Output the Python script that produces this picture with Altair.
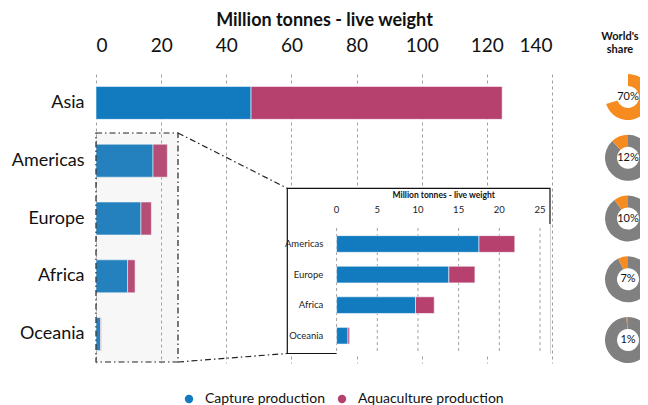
import altair as alt
import pandas as pd

# ---- data ----
regions = ["Asia", "Americas", "Europe", "Africa", "Oceania"]
capture = [47.6, 17.5, 13.8, 9.7, 1.4]
aquaculture = [77.1, 4.4, 3.2, 2.3, 0.2]
share = [70, 12, 10, 7, 1]
series = ["Capture production", "Aquaculture production"]
main_ticks = [0, 20, 40, 60, 80, 100, 120, 140]
inset_ticks = [0, 5, 10, 15, 20, 25]
inset_regions = regions[1:]
axis_title = "Million tonnes - live weight"
share_title = "World's\nshare"

BLUE, PINK, ORANGE, GREY = "#127BBF", "#B6416F", "#F68B1F", "#808080"
INK = "#111111"
GRID = "#a0a0a0"

rows = []
for r, c, a in zip(regions, capture, aquaculture):
    rows.append(dict(region=r, series=series[0], start=0.0, end=c))
    rows.append(dict(region=r, series=series[1], start=c, end=c + a))
bars = pd.DataFrame(rows)
inset_bars = bars[bars.region.isin(inset_regions)]

slices = []
for r, p in zip(regions, share):
    if p > 50:
        slices.append(dict(region=r, t0=0, t1=p, fill=ORANGE))
    else:
        slices.append(dict(region=r, t0=0, t1=100 - p, fill=GREY))
        slices.append(dict(region=r, t0=100 - p, t1=100, fill=ORANGE))
donut_df = pd.DataFrame(slices)
donut_lab = pd.DataFrame(dict(region=regions, label=[f"{p}%" for p in share]))
ticks_df = pd.DataFrame(dict(tick=inset_ticks))
one = pd.DataFrame(dict(a=[0]))

W, H = 456, 289
main_x = alt.Scale(domain=[0, 140], nice=False)
main_y = alt.Scale(domain=regions, paddingInner=0.43, paddingOuter=0.215)
in_x = alt.Scale(domain=[0, 25], range=[240.6, 444], nice=False)
in_y = alt.Scale(domain=inset_regions, range=[154.7, 277], paddingInner=0.455, paddingOuter=0.2275)
d_y = alt.Scale(type="point", domain=regions, range=[23, 266], padding=0)
color = alt.Scale(domain=series, range=[BLUE, PINK])
DASHDOT = [6, 3, 1.5, 3]
DONUT_X = 532

main = alt.Chart(bars).mark_bar(stroke="white", strokeWidth=0.8, strokeOpacity=0.7).encode(
    x=alt.X("start:Q", scale=main_x,
            axis=alt.Axis(orient="top", values=main_ticks, title=axis_title, grid=True,
                          gridDash=[3, 3], gridColor=GRID, domain=False, ticks=False, tickSize=0,
                          labelFontSize=19, labelPadding=19, labelColor=INK,
                          titleFontSize=18, titleFontWeight="bold", titlePadding=7, titleColor=INK)),
    x2="end:Q",
    y=alt.Y("region:N", scale=main_y,
            axis=alt.Axis(title=None, domain=False, ticks=False, tickSize=0, grid=False,
                          labelFontSize=18, labelPadding=12, labelColor=INK)),
    color=alt.Color("series:N", scale=color,
                    legend=alt.Legend(title=None, orient="none", legendX=86, legendY=318,
                                      direction="horizontal", symbolType="circle", symbolSize=71,
                                      symbolStrokeWidth=0, labelFontSize=14, labelColor=INK,
                                      labelOffset=9, columnPadding=10, padding=0)),
)

zoom_rect = alt.Chart(one).mark_rect(fill="#b6b6b6", fillOpacity=0.11, stroke="#222",
                                     strokeWidth=1.2, strokeDash=DASHDOT).encode(
    x=alt.value(0), x2=alt.value(82), y=alt.value(59), y2=alt.value(288))

conn_df = pd.DataFrame(dict(x1=[82, 82], y1=[59, 288], x2=[191.3, 191.3], y2=[114.3, 279.5]))
connectors = alt.Chart(conn_df).mark_rule(color="#222", strokeWidth=1.2, strokeDash=DASHDOT).encode(
    x=alt.X("x1:Q", scale=None), y=alt.Y("y1:Q", scale=None),
    x2="x2:Q", y2="y2:Q")

box = alt.Chart(one).mark_rect(fill="white", stroke="#111", strokeWidth=1.2).encode(
    x=alt.value(191.3), x2=alt.value(454), y=alt.value(114.3), y2=alt.value(279.5))
cover = alt.Chart(one).mark_rect(fill="white").encode(
    x=alt.value(240.6), x2=alt.value(454.7), y=alt.value(150), y2=alt.value(280.2))

in_grid = alt.Chart(ticks_df).mark_rule(color=GRID, strokeDash=[3, 3], strokeWidth=1).encode(
    x=alt.X("tick:Q", scale=in_x, axis=None), y=alt.value(154), y2=alt.value(279.5))
in_ticks = alt.Chart(ticks_df).mark_text(fontSize=9.5, color="#222", baseline="middle").encode(
    x=alt.X("tick:Q", scale=in_x, axis=None), y=alt.value(136), text="tick:Q")
in_title = alt.Chart(one).mark_text(fontSize=8.5, fontWeight="bold", color=INK, baseline="middle").encode(
    x=alt.value(347.7), y=alt.value(121), text=alt.value(axis_title))
in_ylab = alt.Chart(pd.DataFrame(dict(region=inset_regions))).mark_text(
    align="right", baseline="middle", fontSize=9.5, color="#222").encode(
    x=alt.value(227.3), y=alt.Y("region:N", scale=in_y, axis=None), text="region:N")
in_bars = alt.Chart(inset_bars).mark_bar(stroke="white", strokeWidth=0.8, strokeOpacity=0.7).encode(
    x=alt.X("start:Q", scale=in_x, axis=None), x2="end:Q",
    y=alt.Y("region:N", scale=in_y, axis=None),
    color=alt.Color("series:N", scale=color))

donuts = alt.Chart(donut_df).mark_arc(innerRadius=11, outerRadius=23).encode(
    x=alt.value(DONUT_X), y=alt.Y("region:N", scale=d_y, axis=None),
    theta=alt.Theta("t0:Q", scale=alt.Scale(domain=[0, 100], range=[0, 6.283185307]), stack=False),
    theta2="t1:Q",
    fill=alt.Fill("fill:N", scale=None))
donut_text = alt.Chart(donut_lab).mark_text(fontSize=11, color=INK, baseline="middle").encode(
    x=alt.value(DONUT_X), y=alt.Y("region:N", scale=d_y, axis=None), text="label:N")
world = alt.Chart(one).mark_text(fontSize=11, fontWeight="bold", color=INK, lineBreak="\n",
                                 lineHeight=13, baseline="middle").encode(
    x=alt.value(524), y=alt.value(-37), text=alt.value(share_title))

chart = alt.layer(main, zoom_rect, connectors, box, cover, in_grid, in_ticks, in_title, in_ylab,
                  in_bars, donuts, donut_text, world).resolve_scale(
    x="independent", y="independent").properties(
    width=W, height=H,
    padding={"left": 88, "top": 66, "right": 88, "bottom": 42},
    autosize=alt.AutoSizeParams(type="none"),
).configure(font="Lato").configure_view(stroke=None)

chart.save("out.html", embed_options={"renderer": "svg", "actions": False})
